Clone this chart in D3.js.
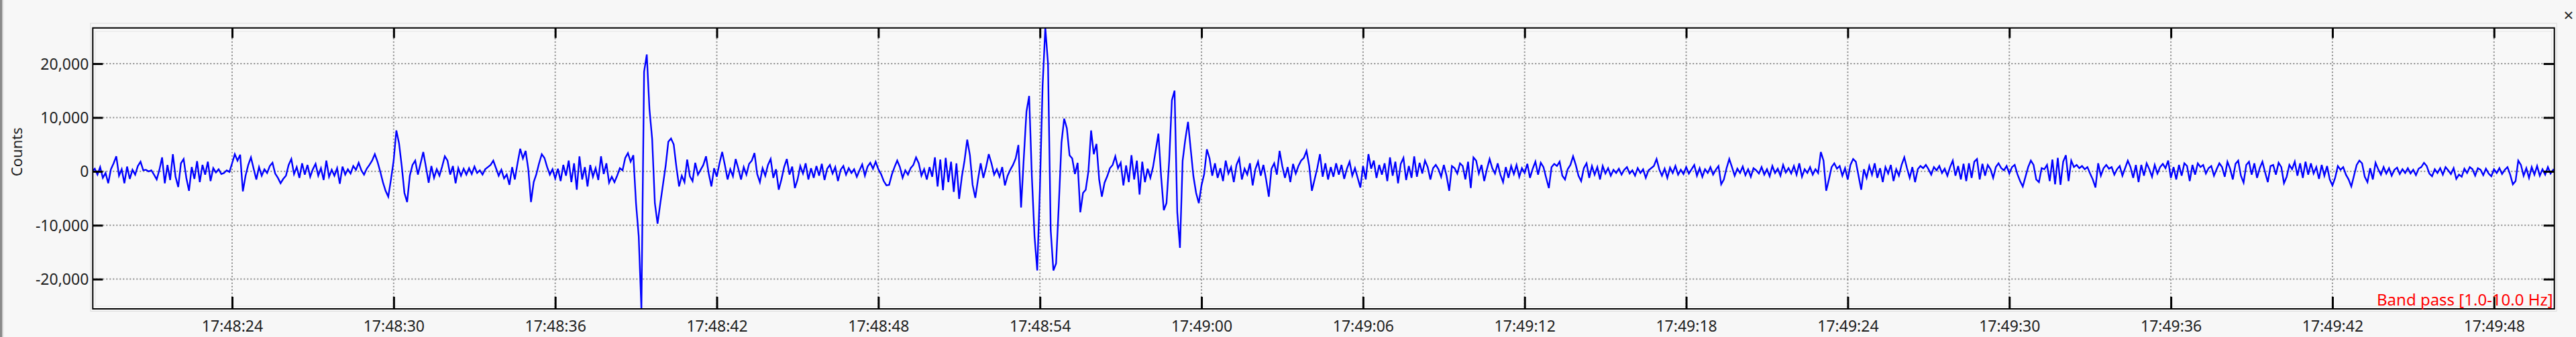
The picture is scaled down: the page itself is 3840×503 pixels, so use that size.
<!DOCTYPE html>
<html><head><meta charset="utf-8">
<script src="https://cdn.jsdelivr.net/npm/d3@7"></script>
<style>
html,body{margin:0;padding:0;background:#f7f7f7;}
svg{display:block;}
text{font-family:"Noto Sans","Open Sans",sans-serif;}
</style></head><body>
<svg id="chart" width="3840" height="503"></svg>
<script>
// ---- data ----
const sampleStart = "2000-01-01T17:48:18.800Z";
const sampleStepMs = 100;
const counts = [
0,500,-600,800,-1200,-300,-2200,400,1500,2800,
-800,400,-2200,900,-1400,300,-600,1000,1800,200,
300,0,200,-600,-1500,300,2600,-2200,1200,-1600,
3200,-1000,-2900,1500,2300,-1200,-3600,800,-1400,1900,
-2000,1200,-600,1800,-1800,600,-200,400,-500,-300,
200,-100,1500,3200,2000,3100,-3700,-800,1200,2600,
500,-1500,800,-800,400,-300,1000,1600,-400,-1200,
-2200,-1400,-800,1200,2300,-500,800,-1200,1500,-600,
1200,-1000,400,1400,-800,600,-1600,2000,-1000,300,
-800,600,-2300,900,-600,400,-400,1000,300,1600,
200,-600,500,1200,2000,3200,1800,0,-2000,-3600,
-4700,-1500,2000,7600,5200,1000,-4000,-5700,-800,1200,
2000,-600,1500,3600,800,-2100,1000,-1200,400,-800,
900,2800,2000,-600,1000,-2200,600,-800,500,-600,
600,-500,900,-300,200,-600,400,800,1200,2000,
600,-800,300,-1300,-600,-2500,800,-1500,1500,4200,
2400,3800,400,-5700,-2000,-500,1500,3200,2500,800,
-600,400,-1300,500,-1800,1200,-800,2000,-2000,1500,
-3400,2800,-1500,800,-2800,1200,-1000,600,-1600,2800,
-500,1500,-2100,-1000,-2000,-800,600,200,2500,3400,
1800,3000,-5900,-12000,-25600,18500,21700,11500,6000,-5900,
-9700,-6000,-2500,1000,5500,6100,5000,800,-2800,-800,
-2000,2200,-900,-1800,1600,-600,300,1200,2800,-400,
-2800,600,-1000,1500,3600,1200,-1500,400,-900,2300,
500,-1500,800,-600,1400,2000,3400,-500,-2000,600,
-800,1200,2300,-1200,400,-3400,-1500,800,2300,-600,
900,-3100,-1500,1000,-400,1500,-1500,600,-1200,1000,
-800,1400,-1600,500,1200,-400,800,-1800,300,1000,
-600,600,-300,400,-1000,200,1300,-800,900,1600,
500,1800,400,-500,-1800,-2600,-2500,-600,800,2000,
800,-1200,200,-600,600,1200,2600,1500,-800,400,
-1500,800,-1000,2600,-2800,2200,-3500,2500,-2000,1800,
-3800,1500,-5100,-1000,2000,5900,3000,-2500,-4900,-1500,
1500,-1200,800,3200,1500,-600,400,-1000,800,-2600,
-800,300,1200,2400,4900,-6700,2400,11100,14000,-900,
-12100,-18400,-3000,16000,26700,20000,-10900,-18400,-17100,-6300,
5300,9800,8000,3000,2400,-500,1600,-7600,-4000,-3400,
0,7600,3200,5100,-1500,-4700,-2100,-900,600,1200,
2800,600,1600,-2600,1100,-2000,3000,-1500,2000,-4300,
1800,-2000,500,-1200,800,3900,7000,-900,-7200,-5900,
2000,13200,15000,-7600,-14200,2000,6000,9200,4100,-900,
-4000,-5900,-2600,-500,4100,2400,-800,1500,-1200,600,
-1800,2000,-400,800,-2000,1200,2400,-1500,500,-600,
1500,-2600,400,1800,-800,1200,-1500,-4700,500,1500,
-600,3800,1000,-1200,800,-2000,1400,-400,1000,2000,
2500,3800,1000,-3600,-1500,600,3200,-1000,1500,-1500,
800,-1000,1500,-600,1200,-1400,500,1800,-800,600,
-1200,-3000,1000,-1500,3200,500,2000,-1200,1200,-600,
1500,-1800,2600,-800,1800,-2200,1400,2500,-1600,1000,
-1200,2800,-1000,1600,-400,2000,800,-1500,600,1200,
400,-1000,1200,-800,-3600,1000,600,-400,1500,1000,
-1500,1800,-3100,2600,2000,-400,1200,-1800,400,2300,
600,-400,1500,-600,-2000,800,-1200,1000,-500,1200,
-1000,600,-300,1400,-1200,500,1800,-600,1600,800,
-1200,-3100,800,1400,1000,1800,-800,-1500,400,1200,
2800,1200,-800,-1800,600,1500,-1200,1000,-600,800,
-1500,1000,-400,600,-800,300,-300,500,-600,300,
800,-400,200,-800,600,-300,400,-1200,200,600,
1000,2300,400,-800,500,-1200,700,-300,1000,-600,
300,-500,800,-400,400,1200,-800,600,-1000,400,
-300,800,-600,300,1000,-2400,-1500,600,2300,800,
-800,500,-300,900,-700,400,-1000,600,200,-400,
800,-600,400,-900,1000,-300,500,-800,1200,-200,
600,-400,1000,-600,1500,-1000,400,-300,800,-600,
400,-300,3600,2000,-3600,-1500,800,1500,500,1000,
-800,600,-1500,1200,2300,1800,-800,-3400,400,-1200,
1000,-600,1500,-1200,600,-2000,800,-400,1200,-1800,
400,-800,1200,2600,600,-1200,800,-2000,400,1000,
600,1200,400,-600,800,200,1000,-300,500,-800,
800,2000,-800,1000,-1500,1400,-1800,1500,-1200,1800,
2300,-1500,1400,-800,1200,400,-1200,800,1500,600,
200,1000,-400,800,1200,-500,-1800,-2800,-1000,800,
2000,1200,-1500,-2000,600,400,1200,-1800,2200,-2400,
2500,-2500,1800,3000,-1800,2000,800,1200,600,1000,
400,800,-400,-1500,-3000,1500,-800,600,1200,500,
800,-600,400,1000,-800,600,2000,800,-1200,1200,
-2000,1200,-800,1500,400,-1000,1200,-400,800,1400,
600,2000,-1200,800,-1500,1200,-800,1500,1000,-1800,
1200,-600,1500,800,1200,-400,600,1000,-800,400,
1500,800,-1000,1800,500,-1500,1400,2000,-800,-2100,
1200,1800,-600,1500,-1200,600,1800,-200,-2000,1000,
1200,-600,1600,800,-2200,-1000,1200,400,1800,-800,
1500,-1200,1800,-600,1500,-400,800,-1400,1200,-800,
1000,-1500,-2600,-1200,1000,300,800,-600,-1500,-2800,
-800,1200,2000,1500,-1000,-2000,600,-1500,1600,400,
-600,800,-400,600,-800,300,700,-500,400,-300,
600,-400,300,-700,500,800,1600,1000,-400,-900,
400,-300,600,-600,800,200,-500,600,-1400,-600,
-1000,500,-300,800,400,-800,600,300,-700,500,
-400,-900,400,-300,600,-500,300,800,-600,-2400,
-1800,2000,1200,-800,600,-1200,800,-600,1000,-800,
400,-600,800,-400,300,-200
];
const yTicks = [-20000, -10000, 0, 10000, 20000];
const xTickEverySeconds = 6;
const viewStart = "2000-01-01T17:48:18.826Z";
const viewEnd = "2000-01-01T17:49:50.240Z";
const yDomain = [-25520, 26630];
const yLabel = "Counts";
const filterLabel = "Band pass [1.0-10.0 Hz]";

// ---- layout ----
const W = 3840, H = 503;
const L = 138.3, R = 3807.7, T = 41.7, B = 461;

const svg = d3.select("#chart");
const t0 = new Date(sampleStart).getTime();
const samples = counts.map((v, i) => ({ t: new Date(t0 + i * sampleStepMs), v }));

const x = d3.scaleUtc().domain([new Date(viewStart), new Date(viewEnd)]).range([L, R]);
const y = d3.scaleLinear().domain(yDomain).range([B, T]);
const loc = d3.formatLocale({decimal: ".", thousands: ",", grouping: [3], currency: ["", ""], minus: "-"});
const fmtY = loc.format(",");
const fmtX = d3.utcFormat("%H:%M:%S");
const xTicks = x.ticks(d3.utcSecond.every(xTickEverySeconds));

// window edge
svg.append("rect").attr("x", 0).attr("y", 0).attr("width", 3.5).attr("height", H).attr("fill", "#8a8a8a");
svg.append("line").attr("x1", 5).attr("x2", 5).attr("y1", 0).attr("y2", H).attr("stroke", "#dadada").attr("stroke-width", 1);

// plot background + outer halo
svg.append("rect").attr("x", L - 3.5).attr("y", T - 7).attr("width", R - L + 7).attr("height", B - T + 10.5)
  .attr("fill", "none").attr("stroke", "#dcdcdc").attr("stroke-width", 1);
svg.append("rect").attr("x", L).attr("y", T).attr("width", R - L).attr("height", B - T).attr("fill", "#f8f8f8");
svg.append("rect").attr("x", L + 4).attr("y", T + 5).attr("width", R - L - 8).attr("height", B - T - 9)
  .attr("fill", "none").attr("stroke", "#e6e6e6").attr("stroke-width", 1);

// grid
const grid = svg.append("g").attr("stroke", "#8c8c8c").attr("stroke-width", 2).attr("stroke-dasharray", "2,3");
grid.selectAll(".gx").data(xTicks).join("line")
  .attr("x1", d => x(d)).attr("x2", d => x(d)).attr("y1", T).attr("y2", B);
grid.selectAll(".gy").data(yTicks).join("line")
  .attr("x1", L).attr("x2", R).attr("y1", d => y(d)).attr("y2", d => y(d));

// waveform
svg.append("clipPath").attr("id", "clip").append("rect")
  .attr("x", L).attr("y", T).attr("width", R - L).attr("height", B - T);
const line = d3.line().x(d => x(d.t)).y(d => y(d.v));
svg.append("path").datum(samples).attr("clip-path", "url(#clip)")
  .attr("fill", "none").attr("stroke", "#0000ff").attr("stroke-width", 2.4)
  .attr("stroke-linejoin", "miter").attr("d", line);

// axes (ticks inside the frame)
function styleAxis(g) {
  g.select(".domain").remove();
  g.selectAll(".tick line").attr("stroke", "#000").attr("stroke-width", 3);
  g.selectAll(".tick text").attr("fill", "#1e1e1e").style("font-size", "23px")
    .style("font-family", '"Noto Sans","Open Sans",sans-serif');
}
const axL = svg.append("g").attr("transform", `translate(${L},0)`)
  .call(d3.axisLeft(y).tickValues(yTicks).tickFormat(fmtY).tickSize(-15).tickPadding(6)).call(styleAxis);
axL.selectAll(".tick text").attr("dy", "8px");
svg.append("g").attr("transform", `translate(${R},0)`)
  .call(d3.axisRight(y).tickValues(yTicks).tickFormat("").tickSize(-16)).call(styleAxis);
const axB = svg.append("g").attr("transform", `translate(0,${B})`)
  .call(d3.axisBottom(x).tickValues(xTicks).tickFormat(fmtX).tickSize(-18)).call(styleAxis);
axB.selectAll(".tick text").attr("y", 34).attr("dy", null);
svg.append("g").attr("transform", `translate(0,${T})`)
  .call(d3.axisTop(x).tickValues(xTicks).tickFormat("").tickSize(-15)).call(styleAxis);

// frame
svg.append("rect").attr("x", L).attr("y", T).attr("width", R - L).attr("height", B - T)
  .attr("fill", "none").attr("stroke", "#000").attr("stroke-width", 2);

// labels
svg.append("text").attr("transform", `translate(33.3,226.7) rotate(-90)`)
  .attr("text-anchor", "middle").attr("fill", "#1e1e1e").style("font-size", "22px").text(yLabel);
svg.append("text").attr("x", R - 2).attr("y", 456).attr("text-anchor", "end")
  .attr("fill", "#ff0000").style("font-size", "24px").text(filterLabel);
svg.append("text").attr("x", 3829).attr("y", 22).attr("text-anchor", "middle")
  .attr("dominant-baseline", "central").attr("fill", "#222").style("font-size", "26px").text("×");
</script>
</body></html>
